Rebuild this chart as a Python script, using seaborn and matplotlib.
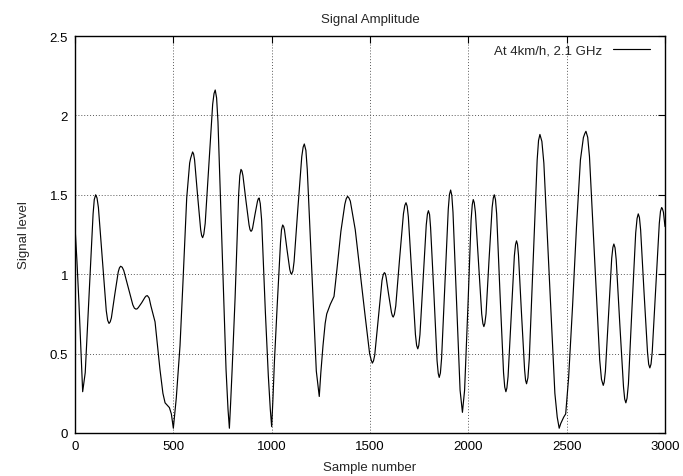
import matplotlib
matplotlib.use("Agg")
import matplotlib.pyplot as plt
import seaborn as sns
import pandas as pd

# Read-off points of the curve (sample number, signal level)
samples = [
    0, 10, 20, 30, 39, 52, 72, 92, 105, 119, 139, 159, 173, 185, 202, 220, 232,
    248, 271, 294, 310, 322, 339, 356, 368, 386, 407, 432, 447, 458, 480, 490, 500,
    515, 534, 549, 568, 583, 598, 608, 623, 639, 649, 662, 681, 700, 713,
    727, 749, 768, 778, 785, 791, 799, 814, 832, 844, 854, 869, 885, 895,
    903, 915, 928, 936, 949, 968, 983, 993, 1000, 1006, 1014, 1028, 1045, 1056,
    1065, 1078, 1092, 1101, 1114, 1133, 1153, 1166, 1181, 1204, 1227, 1242,
    1250, 1261, 1272, 1280, 1298, 1317, 1331, 1352, 1372, 1386, 1400, 1425, 1449,
    1475, 1498, 1512, 1524, 1542, 1561, 1573, 1582, 1595, 1609, 1618, 1631, 1650,
    1670, 1683, 1695, 1713, 1731, 1743, 1754, 1770, 1786, 1797, 1808, 1825, 1841,
    1852, 1864, 1881, 1898, 1910, 1922, 1940, 1958, 1970, 1981, 1998, 2014, 2025,
    2036, 2052, 2068, 2079, 2090, 2105, 2121, 2132, 2144, 2161, 2179, 2191, 2202,
    2218, 2234, 2245, 2255, 2270, 2286, 2296, 2310, 2330, 2350, 2364, 2384, 2413,
    2440, 2452, 2462, 2470, 2485, 2495, 2510, 2530, 2550, 2570, 2585, 2598, 2616,
    2642, 2668, 2686, 2697, 2713, 2729, 2740, 2752, 2770, 2789, 2801, 2814, 2832,
    2851, 2864, 2876, 2893, 2911, 2923, 2935, 2953, 2971, 2983, 2992, 3000,
]
levels = [
    1.30, 1.08, 0.82, 0.52, 0.26, 0.38, 0.88, 1.38, 1.50, 1.42, 1.095, 0.77, 0.69, 0.725, 0.87, 1.015, 1.05,
    1.023, 0.915, 0.807, 0.78, 0.79, 0.82, 0.855, 0.865, 0.80, 0.70, 0.40, 0.25, 0.19, 0.16, 0.12, 0.03,
    0.22, 0.55, 0.95, 1.48, 1.70, 1.77, 1.72, 1.50, 1.28, 1.23, 1.32, 1.70, 2.07, 2.16,
    1.96, 1.12, 0.40, 0.15, 0.03, 0.18, 0.40, 0.85, 1.50, 1.66, 1.62, 1.465, 1.31, 1.27,
    1.29, 1.375, 1.46, 1.48, 1.34, 0.76, 0.36, 0.15, 0.04, 0.20, 0.45, 0.80, 1.20, 1.31,
    1.28, 1.155, 1.03, 1.00, 1.08, 1.41, 1.74, 1.82, 1.66, 1.025, 0.39, 0.23,
    0.38, 0.55, 0.69, 0.75, 0.81, 0.86, 1.02, 1.27, 1.44, 1.49, 1.46, 1.28, 1.02,
    0.74, 0.50, 0.44, 0.49, 0.72, 0.96, 1.01, 0.98, 0.87, 0.76, 0.73, 0.80, 1.09,
    1.38, 1.45, 1.36, 0.99, 0.62, 0.53, 0.62, 0.965, 1.31, 1.40, 1.295, 0.875, 0.455,
    0.35, 0.47, 0.94, 1.41, 1.53, 1.39, 0.83, 0.27, 0.13, 0.27, 0.80, 1.34, 1.47,
    1.39, 1.07, 0.75, 0.67, 0.75, 1.085, 1.42, 1.50, 1.38, 0.88, 0.38, 0.26, 0.355,
    0.735, 1.115, 1.21, 1.12, 0.76, 0.40, 0.31, 0.47, 1.095, 1.72, 1.88, 1.70, 0.95,
    0.25, 0.10, 0.03, 0.06, 0.10, 0.12, 0.35, 0.80, 1.30, 1.72, 1.86, 1.90, 1.74,
    1.10, 0.46, 0.30, 0.39, 0.745, 1.10, 1.19, 1.09, 0.69, 0.29, 0.19, 0.31, 0.785,
    1.26, 1.38, 1.28, 0.895, 0.51, 0.41, 0.51, 0.915, 1.32, 1.42, 1.39, 1.30,
]

# Extra read-off points close to the rounded peaks and troughs
near_peak_samples = [
    98, 112, 166, 179, 226, 240, 302, 316, 362, 377, 588, 603, 644, 655, 707, 720,
    838, 849, 890, 899, 932, 942, 1050, 1061, 1097, 1108, 1160, 1174, 1379, 1393,
    1506, 1518, 1567, 1578, 1614, 1624, 1677, 1689, 1737, 1748, 1792, 1803,
    1847, 1858, 1904, 1916, 2020, 2030, 2074, 2084, 2127, 2138, 2185, 2196,
    2240, 2250, 2291, 2303, 2357, 2374, 2592, 2607, 2677, 2691, 2735, 2746,
    2795, 2807, 2858, 2870, 2917, 2929, 2977, 2987,
]
near_peak_levels = [
    1.47, 1.48, 0.71, 0.70, 1.04, 1.044, 0.786, 0.782, 0.863, 0.85, 1.73, 1.757, 1.243, 1.252, 2.138, 2.11,
    1.62, 1.65, 1.28, 1.275, 1.475, 1.445, 1.28, 1.30, 1.007, 1.02, 1.80, 1.78, 1.475, 1.48,
    0.46, 0.455, 0.996, 1.003, 0.737, 0.747, 1.433, 1.428, 0.552, 0.551, 1.379, 1.375,
    0.375, 0.378, 1.502, 1.496, 1.438, 1.451, 0.689, 0.69, 1.48, 1.47, 0.29, 0.283,
    1.187, 1.188, 0.332, 0.348, 1.842, 1.836, 1.885, 1.862, 0.338, 0.321, 1.169, 1.166,
    0.214, 0.219, 1.351, 1.357, 0.433, 0.434, 1.396, 1.412,
]

x_ticks = [0, 500, 1000, 1500, 2000, 2500, 3000]
x_tick_labels = ["0", "500", "1000", "1500", "2000", "2500", "3000"]
y_ticks = [0, 0.5, 1, 1.5, 2, 2.5]
y_tick_labels = ["0", "0.5", "1", "1.5", "2", "2.5"]
series_label = "At 4km/h, 2.1 GHz"

sns.set_style("white")
plt.rcParams["font.family"] = ["Liberation Sans", "DejaVu Sans"]
FS = 9.5

fig = plt.figure(figsize=(6.83, 4.77), dpi=100)
ax = fig.add_axes([75 / 683, 1 - 434 / 477, 590 / 683, 397 / 477])

df = pd.DataFrame({"Sample number": samples + near_peak_samples,
                   "Signal level": levels + near_peak_levels})
df = df.sort_values("Sample number")
sns.lineplot(data=df, x="Sample number", y="Signal level", ax=ax,
             color="black", linewidth=0.85, label=series_label,
             estimator=None, sort=True)

ax.set_xlim(0, 3000)
ax.set_ylim(0, 2.5)
ax.set_xticks(x_ticks)
ax.set_xticklabels(x_tick_labels)
ax.set_yticks(y_ticks)
ax.set_yticklabels(y_tick_labels)

ax.grid(True, color="0.35", linestyle=(0, (1, 2)), linewidth=0.7)
ax.tick_params(direction="in", length=5, width=0.8, top=True, right=True,
               labelsize=FS, colors="black", pad=5)
for sp in ax.spines.values():
    sp.set_color("black")
    sp.set_linewidth(1.0)

ax.set_xlabel("Sample number", fontsize=FS)
ax.xaxis.set_label_coords(0.5, -0.071)
ax.set_ylabel("Signal level", fontsize=FS)
ax.yaxis.set_label_coords(-0.077, 0.5)
ax.set_title("Signal Amplitude", fontsize=FS, pad=10)

leg = ax.legend(loc="upper right", frameon=False, markerfirst=False,
                fontsize=FS, handlelength=2.8, borderaxespad=0.2,
                handletextpad=0.8, bbox_to_anchor=(0.988, 1.0))
for line in leg.get_lines():
    line.set_linewidth(0.85)

fig.savefig("out.png", dpi=100)
